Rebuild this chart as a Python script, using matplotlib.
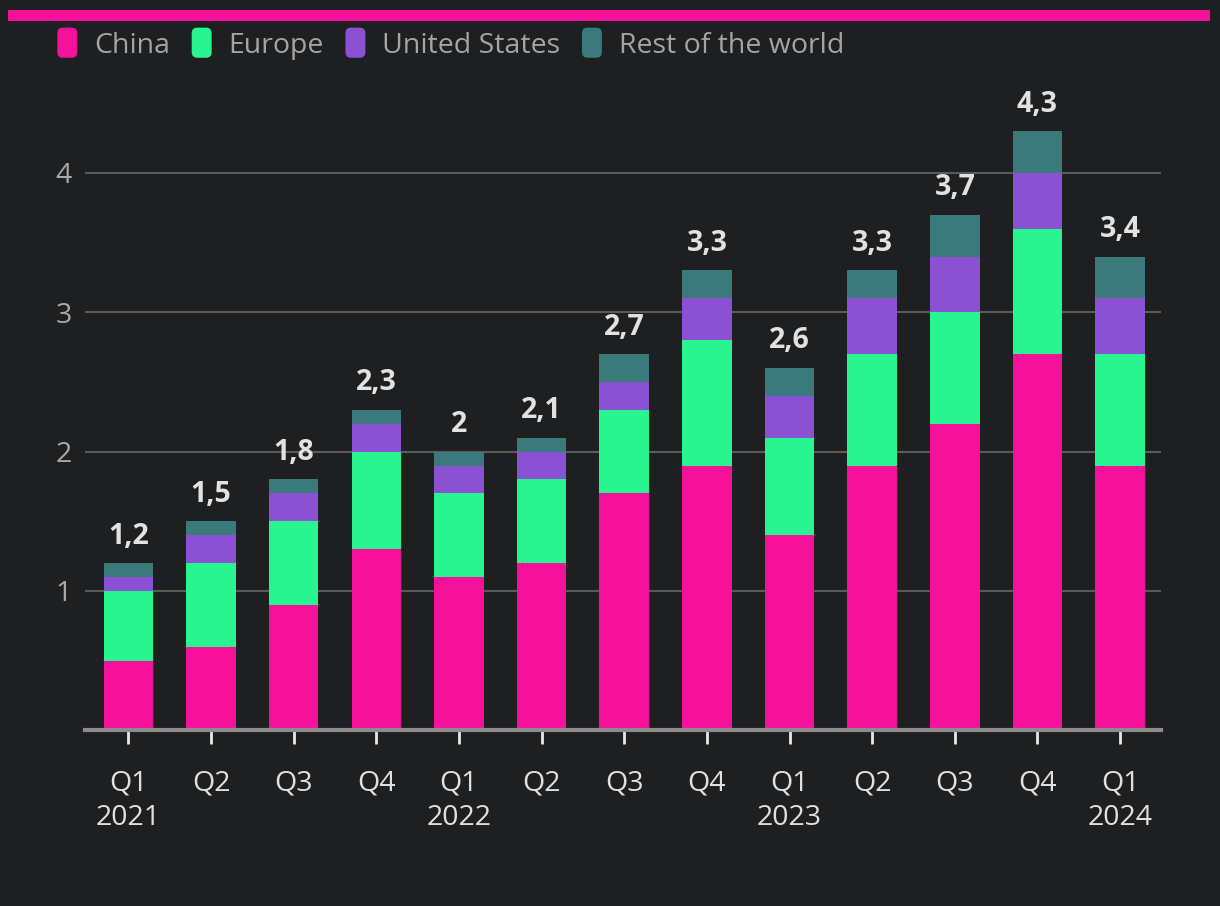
import matplotlib.pyplot as plt
import numpy as np
from matplotlib.patches import FancyBboxPatch, Rectangle
from matplotlib.legend_handler import HandlerPatch

# data
quarters = ['Q1\n2021', 'Q2', 'Q3', 'Q4', 'Q1\n2022', 'Q2', 'Q3', 'Q4',
            'Q1\n2023', 'Q2', 'Q3', 'Q4', 'Q1\n2024']
china = [0.5, 0.6, 0.9, 1.3, 1.1, 1.2, 1.7, 1.9, 1.4, 1.9, 2.2, 2.7, 1.9]
europe = [0.5, 0.6, 0.6, 0.7, 0.6, 0.6, 0.6, 0.9, 0.7, 0.8, 0.8, 0.9, 0.8]
usa = [0.1, 0.2, 0.2, 0.2, 0.2, 0.2, 0.2, 0.3, 0.3, 0.4, 0.4, 0.4, 0.4]
rest = [0.1, 0.1, 0.1, 0.1, 0.1, 0.1, 0.2, 0.2, 0.2, 0.2, 0.3, 0.3, 0.3]
totals = ['1,2', '1,5', '1,8', '2,3', '2', '2,1', '2,7', '3,3', '2,6', '3,3', '3,7', '4,3', '3,4']

series = [('China', china, '#f5119a'),
          ('Europe', europe, '#28f58f'),
          ('United States', usa, '#8a52d3'),
          ('Rest of the world', rest, '#3b7a7a')]

bg = '#1e1f21'
plt.rcParams['font.family'] = ['Open Sans', 'DejaVu Sans']


class RoundBox(HandlerPatch):
    def create_artists(self, legend, orig_handle, xdescent, ydescent,
                       width, height, fontsize, trans):
        p = FancyBboxPatch((-xdescent, -ydescent - 4), width, height + 8,
                           boxstyle='round,pad=0,rounding_size=4',
                           facecolor=orig_handle.get_facecolor(),
                           edgecolor='none', transform=trans)
        return [p]


fig = plt.figure(figsize=(12.2, 9.06), dpi=100, facecolor=bg)
ax = fig.add_axes([0.070, 0.194, 0.882, 0.692])
ax.set_facecolor(bg)

x = np.arange(len(quarters))
bottom = np.zeros(len(quarters))
handles = []
for name, vals, col in series:
    b = ax.bar(x, vals, 0.6, bottom=bottom, color=col, label=name, zorder=3)
    handles.append(b.patches[0])
    bottom += np.array(vals)

# totals on top
for xi, top, lab in zip(x, bottom, totals):
    ax.text(xi, top + 0.09, lab, ha='center', va='bottom', color='#e2e2e2',
            fontsize=20.5, fontweight='bold')

ax.set_xlim(-0.52, 12.5)
ax.set_ylim(0, 4.5)
ax.set_yticks([1, 2, 3, 4])
ax.set_yticklabels(['1', '2', '3', '4'])
ax.grid(axis='y', color='#5a5a5a', linewidth=1.5, zorder=0)
ax.set_xticks(x)
ax.set_xticklabels(quarters, linespacing=1.35)

ax.tick_params(axis='y', length=0, labelsize=20.5, labelcolor='#a8a8a8', pad=10)
ax.tick_params(axis='x', length=10, width=2, color='#e8e8e8', labelsize=20.5,
               labelcolor='#e0e0e0', pad=18)
for s in ['top', 'right', 'left']:
    ax.spines[s].set_visible(False)
ax.spines['bottom'].set_color('#8c8c8c')
ax.spines['bottom'].set_linewidth(3)
ax.spines['bottom'].set_zorder(4)

# legend
leg = fig.legend(handles, [s[0] for s in series], loc='upper left',
                 bbox_to_anchor=(0.047, 0.965), ncol=4, frameon=False,
                 fontsize=20.5, labelcolor='#a4a4a4', handlelength=0.7,
                 handleheight=0.65, handletextpad=0.6, columnspacing=0.75,
                 borderaxespad=0, borderpad=0,
                 handler_map={Rectangle: RoundBox()})

# pink strip at top
fig.add_artist(Rectangle((8 / 1220, 1 - 21 / 906), 1202 / 1220, 11 / 906,
                         transform=fig.transFigure, facecolor='#f5119a',
                         edgecolor='none'))

fig.savefig('out.png', dpi=100, facecolor=bg)
